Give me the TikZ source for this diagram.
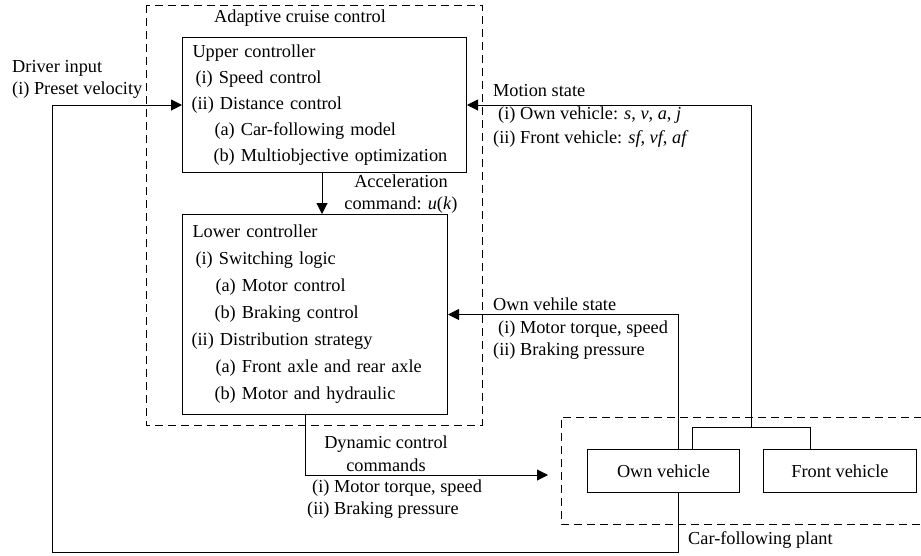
\documentclass[tikz,border=0pt]{standalone}
\usepackage{fontspec}
\setmainfont{Liberation Serif}
\usetikzlibrary{positioning, arrows.meta}

\tikzset{
    block/.style={draw, line width=1pt, anchor=north west, align=left, inner xsep=9pt, inner ysep=0pt, font=\fontsize{18.3}{26}\selectfont},
    car/.style={draw, line width=1pt, anchor=north west, minimum height=43pt, inner sep=0pt, font=\fontsize{18.3}{23}\selectfont},
    frame/.style={line width=1pt, dash pattern=on 8pt off 5pt},
    wire/.style={line width=1pt},
    flow/.style={line width=1pt, -{Triangle[length=11pt, width=11pt]}},
    txt/.style={inner sep=0pt, align=left, anchor=north west, font=\fontsize{18.3}{22.5}\selectfont}
}

\begin{document}
\begin{tikzpicture}[x=1pt, y=-1pt]
    \useasboundingbox (0,0) rectangle (921,555);
    % Dashed frames
    \draw [frame] (146,5) rectangle (482,425);
    \draw [frame] (935,417) -| (561,524) -- (935,524);
    \node (acclabel) [txt, anchor=west] at (214,18) {Adaptive cruise control};
    \node (plantlabel) [txt, anchor=west] at (688,540) {Car-following plant};
    % Controllers
    \node (upper) [block, text width=266pt, minimum width=284pt, minimum height=135pt] at (182,37)
        {\hspace*{1pt}Upper controller\\
         \hspace*{4pt}(i) Speed control\\
         (ii) Distance control\\
         \hspace*{23pt}(a) Car-following model\\
         \hspace*{22pt}(b) Multiobjective optimization};
    \node (lower) [block, text width=247pt, minimum width=265pt, minimum height=200pt, font=\fontsize{18.3}{27}\selectfont] at (182,214)
        {\hspace*{1pt}Lower controller\\
         \hspace*{4pt}(i) Switching logic\\
         \hspace*{24pt}(a) Motor control\\
         \hspace*{23pt}(b) Braking control\\
         (ii) Distribution strategy\\
         \hspace*{24pt}(a) Front axle and rear axle\\
         \hspace*{23pt}(b) Motor and hydraulic};
    % Plant
    \node (own) [car, minimum width=152pt] at (587,449) {Own vehicle};
    \node (front) [car, minimum width=153pt] at (763,449) {Front vehicle};
    % Junction points
    \coordinate (tap) at (678,0);
    \coordinate (loop) at (52,552);
    \coordinate (split) at (751,427);
    \coordinate (splitl) at (692,427);
    \coordinate (splitr) at (810,427);
    \coordinate (acc) at (322,0);
    \coordinate (dyn) at (305,0);
    \coordinate (dynend) at (548,475);
    % Connectors
    \draw [flow] (upper.south -| acc) -- (lower.north -| acc);
    \draw [flow] (own.south -| tap) -- (tap |- loop) -- (loop) |- (upper.west);
    \draw [wire] (own.north -| splitl) -- (splitl) -- (splitr) -- (front.north -| splitr);
    \draw [flow] (split) |- (upper.east);
    \draw [flow] (own.north -| tap) |- (lower.east);
    \draw [flow] (lower.south -| dyn) |- (dynend);
    % Labels
    \node (driver) [txt] at (12,60) {Driver input\\(i) Preset velocity};
    \node (accel) [txt, align=center, anchor=north, font=\fontsize{18.3}{22}\selectfont] at (401,175) {Acceleration\\command: \textit{u}(\textit{k})};
    \node (motion) [txt, font=\fontsize{18.3}{23.5}\selectfont] at (493,84)
        {Motion state\\
         \hspace*{5pt}(i) Own vehicle: \textit{s}, \textit{v}, \textit{a}, \textit{j}\\
         (ii) Front vehicle: \textit{sf}, \textit{vf}, \textit{af}};
    \node (ownstate) [txt] at (493,298)
        {Own vehile state\\
         \hspace*{5pt}(i) Motor torque, speed\\
         (ii) Braking pressure};
    \node (dyntitle) [txt, align=center, anchor=north, font=\fontsize{18.3}{23}\selectfont] at (386,436) {Dynamic control\\commands};
    \node (dynlist) [txt, font=\fontsize{18.3}{22}\selectfont] at (307,480)
        {\hspace*{5pt}(i) Motor torque, speed\\
         (ii) Braking pressure};
\end{tikzpicture}
\end{document}
